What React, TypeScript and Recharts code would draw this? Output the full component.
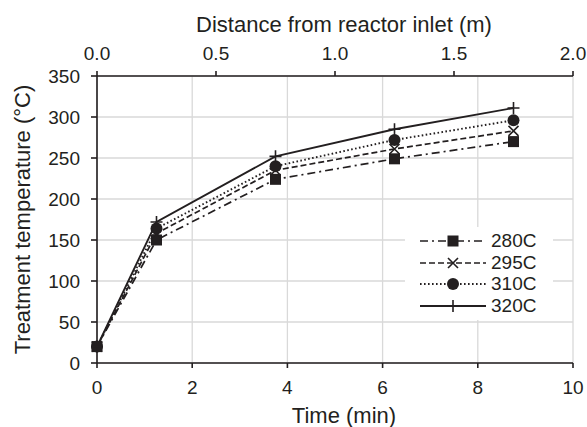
import React from 'react';
import {
  LineChart,
  Line,
  XAxis,
  YAxis,
  CartesianGrid,
  Legend,
} from 'recharts';

const timeMin = [0, 1.25, 3.75, 6.25, 8.75];
const distanceM = [0, 0.25, 0.75, 1.25, 1.75];
const temp280 = [20, 150, 224, 249, 270];
const temp295 = [20, 158, 235, 261, 283];
const temp310 = [20, 164, 240, 272, 296];
const temp320 = [20, 172, 252, 285, 311];

const timeTicks = [0, 2, 4, 6, 8, 10];
const distanceTicks = [0, 0.5, 1.0, 1.5, 2.0];
const tempTicks = [0, 50, 100, 150, 200, 250, 300, 350];

const data = timeMin.map((t, i) => ({
  time: t,
  dist: distanceM[i],
  t280: temp280[i],
  t295: temp295[i],
  t310: temp310[i],
  t320: temp320[i],
}));

type Shape = 'square' | 'cross' | 'circle' | 'plus';

const series: { key: string; name: string; dash: string; width: number; shape: Shape }[] = [
  { key: 't280', name: '280C', dash: '8 4 2 4', width: 1.7, shape: 'square' },
  { key: 't295', name: '295C', dash: '6 3', width: 1.7, shape: 'cross' },
  { key: 't310', name: '310C', dash: '1.6 2.4', width: 1.9, shape: 'circle' },
  { key: 't320', name: '320C', dash: '', width: 1.9, shape: 'plus' },
];

const INK = '#231f20';
const FONT = '"Liberation Sans", Arial, sans-serif';

const Marker = ({ cx, cy, shape }: { cx: number; cy: number; shape: Shape }) => {
  if (cx == null || cy == null) return null;
  switch (shape) {
    case 'square':
      return <rect x={cx - 5.5} y={cy - 5.5} width={11} height={11} fill={INK} />;
    case 'cross':
      return (
        <path
          d={`M${cx - 5},${cy - 5}L${cx + 5},${cy + 5}M${cx - 5},${cy + 5}L${cx + 5},${cy - 5}`}
          stroke={INK}
          strokeWidth={1.6}
          fill="none"
        />
      );
    case 'circle':
      return <circle cx={cx} cy={cy} r={6} fill={INK} />;
    default:
      return (
        <path
          d={`M${cx - 6},${cy}L${cx + 6},${cy}M${cx},${cy - 6}L${cx},${cy + 6}`}
          stroke={INK}
          strokeWidth={1.6}
          fill="none"
        />
      );
  }
};

const LegendBox = () => (
  <div style={{ background: '#fff', padding: '3px 6px 3px 15px', fontFamily: FONT, fontSize: 19, color: INK }}>
    {series.map((s) => (
      <div key={s.key} style={{ display: 'flex', alignItems: 'center', height: 21.7 }}>
        <svg width={66} height={16} style={{ marginRight: 5 }}>
          <line x1={0} y1={8} x2={66} y2={8} stroke={INK} strokeWidth={s.width} strokeDasharray={s.dash || undefined} />
          <Marker cx={33} cy={8} shape={s.shape} />
        </svg>
        <span>{s.name}</span>
      </div>
    ))}
  </div>
);

const tickStyle = { fill: INK, fontSize: 19, fontFamily: FONT };
const axisLine = { stroke: INK, strokeWidth: 1.6 };
const titleText = { fill: INK, fontSize: 22, fontFamily: FONT };

export default function App() {
  return (
    <div style={{ position: 'absolute', left: 0, top: 0, width: 587, height: 427, background: '#fff' }}>
      <LineChart width={587} height={427} data={data} margin={{ top: 0, right: 14, bottom: 0, left: 0 }}>
        <CartesianGrid stroke="#d9d9d9" strokeWidth={1.3} xAxisId="bottom" />
        <XAxis
          xAxisId="bottom"
          dataKey="time"
          type="number"
          domain={[0, 10]}
          ticks={timeTicks}
          height={64}
          tickSize={5}
          tickMargin={13}
          tick={tickStyle}
          axisLine={axisLine}
          tickLine={axisLine}
          label={{ value: 'Time (min)', position: 'insideBottom', offset: 4, dx: 9, ...titleText, style: titleText }}
        />
        <XAxis
          xAxisId="top"
          orientation="top"
          dataKey="dist"
          type="number"
          domain={[0, 2]}
          ticks={distanceTicks}
          tickFormatter={(v: number) => v.toFixed(1)}
          height={76}
          tickSize={5}
          tickMargin={11}
          tick={tickStyle}
          axisLine={axisLine}
          tickLine={axisLine}
          label={{ value: 'Distance from reactor inlet (m)', position: 'insideTop', offset: 16, dx: 9, ...titleText, style: titleText }}
        />
        <YAxis
          type="number"
          domain={[0, 350]}
          ticks={tempTicks}
          width={97}
          tickSize={6}
          tickMargin={11}
          tick={tickStyle}
          axisLine={axisLine}
          tickLine={axisLine}
          label={{
            value: 'Treatment temperature (°C)',
            angle: -90,
            position: 'insideLeft',
            offset: 22,
            ...titleText,
            style: { ...titleText, textAnchor: 'middle' },
          }}
        />
        <Line
          xAxisId="top"
          dataKey="t320"
          stroke="none"
          dot={false}
          activeDot={false}
          legendType="none"
          isAnimationActive={false}
        />
        {series.map((s) => (
          <Line
            key={s.key}
            xAxisId="bottom"
            dataKey={s.key}
            name={s.name}
            type="linear"
            stroke={INK}
            strokeWidth={s.width}
            strokeDasharray={s.dash || undefined}
            dot={(p: any) => <Marker key={`${s.key}-${p.index}`} cx={p.cx} cy={p.cy} shape={s.shape} />}
            activeDot={false}
            isAnimationActive={false}
          />
        ))}
        <Legend
          layout="vertical"
          align="center"
          verticalAlign="middle"
          content={() => <LegendBox />}
          wrapperStyle={{ position: 'absolute', left: 405, top: 227, width: 148, height: 90 }}
        />
      </LineChart>
    </div>
  );
}
